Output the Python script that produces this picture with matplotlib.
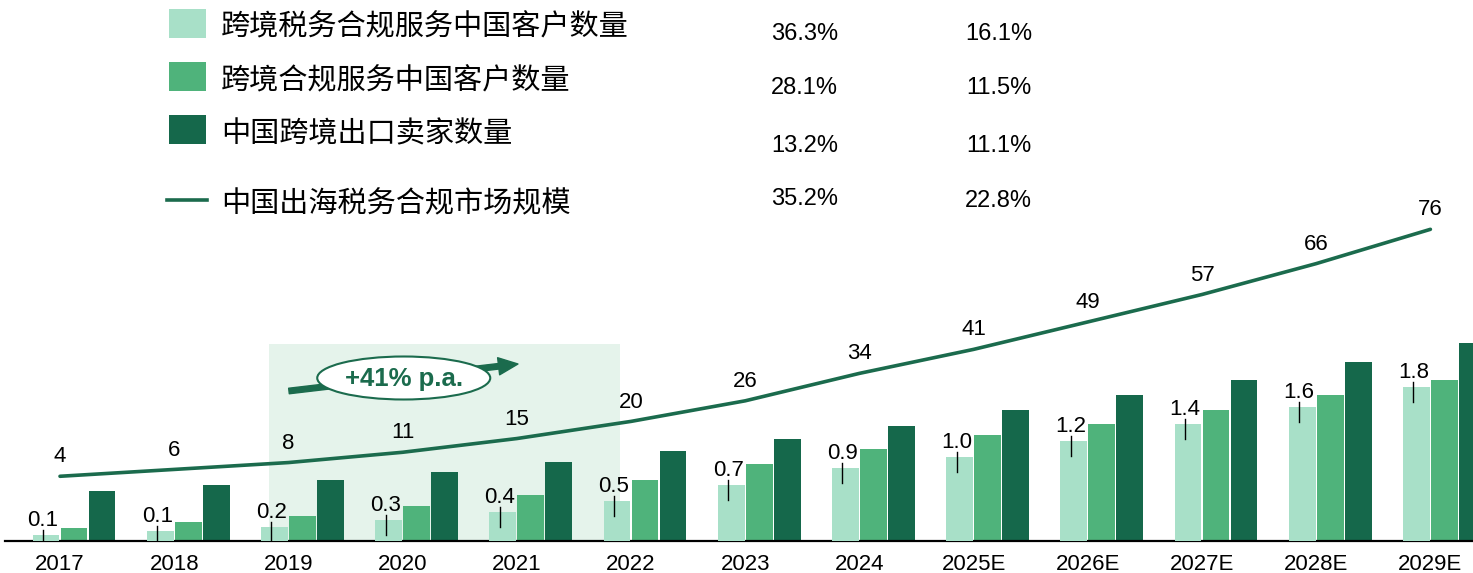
import numpy as np
import matplotlib.pyplot as plt
from matplotlib.patches import Rectangle, Ellipse
from matplotlib.lines import Line2D

plt.rcParams['font.family'] = ['Liberation Sans', 'Noto Sans CJK SC']

years = ['2017', '2018', '2019', '2020', '2021', '2022', '2023', '2024',
         '2025E', '2026E', '2027E', '2028E', '2029E']
tax_clients = [0.07, 0.12, 0.16, 0.25, 0.34, 0.47, 0.66, 0.86, 0.99, 1.18, 1.38, 1.58, 1.81]
tax_labels = ['0.1', '0.1', '0.2', '0.3', '0.4', '0.5', '0.7', '0.9', '1.0', '1.2', '1.4', '1.6', '1.8']
compliance_clients = [13.3, 19, 25, 34.7, 46.3, 61.3, 76.7, 92, 105.7, 117, 130.7, 145.7, 161.3]
sellers = [50, 55.7, 61.3, 69, 78.7, 90, 102, 115, 130.7, 145.7, 161.3, 178.7, 197.7]
market = [4, 6, 8, 11, 15, 20, 26, 34, 41, 49, 57, 66, 76]

legend_names = ['跨境税务合规服务中国客户数量', '跨境合规服务中国客户数量',
                '中国跨境出口卖家数量', '中国出海税务合规市场规模']
cagr_hist = ['36.3%', '28.1%', '13.2%', '35.2%']
cagr_fcst = ['16.1%', '11.5%', '11.1%', '22.8%']

c_light = '#A8E0C8'
c_mid = '#4FB37B'
c_dark = '#15684B'
c_line = '#1B6B4D'
c_box = '#E5F3EB'

W, H = 1473, 573
fig = plt.figure(figsize=(W / 100, H / 100), dpi=100)


def fx(px):
    return px / W


def fy(py):
    return 1 - py / H


ax = fig.add_axes([0, 32 / H, 1, 541 / H])
ax.set_xlim(-60 / 114.2, 1413 / 114.2)
ax.set_ylim(0, 541)
x = np.arange(len(years))

ax_l = ax.twinx()
ax_l.set_ylim(0, 541 / 85)
ax_m = ax.twinx()
ax_m.set_ylim(-51 / 3.43, 490 / 3.43)
ax_l.axis('off')
ax_m.axis('off')

w = 0.235
ax.add_patch(Rectangle((1.83, 0), 4.90 - 1.83, 197, color=c_box, zorder=0.5, lw=0))
ax.bar(x + 0.123, compliance_clients, w, color=c_mid, zorder=2)
ax.bar(x + 0.368, sellers, w, color=c_dark, zorder=2)
ax_l.bar(x - 0.123, tax_clients, w, color=c_light, zorder=2)

# leader ticks + labels on the light bars
px = 1 / 85
for i, v in enumerate(tax_clients):
    xt = i - 0.123 - 0.026
    top = v + 5 * px
    bot = max(v - 15 * px, 1.5 * px)
    ax_l.plot([xt, xt], [bot, top], color='black', lw=1.0, zorder=3)
    ax_l.text(xt, top + 4 * px, tax_labels[i], ha='center', va='baseline', fontsize=16)

# market size line
ax_m.plot(x, market, color=c_line, lw=2.6, solid_capstyle='round', zorder=4)
for i, v in enumerate(market):
    ax_m.annotate(str(v), (i, v), xytext=(0, 10), textcoords='offset points',
                  ha='center', va='baseline', fontsize=16)

# growth marker
ax.annotate('', xy=(4.01, 177), xytext=(2.005, 150),
            arrowprops=dict(arrowstyle='simple,head_length=0.7,head_width=0.62,tail_width=0.2',
                            mutation_scale=20, color=c_line, shrinkA=0, shrinkB=0), zorder=3)
ax.add_patch(Ellipse((3.01, 163), 1.515, 43, fc='white', ec=c_line, lw=1.5, zorder=5))
ax.text(3.01, 162, '+41% p.a.', ha='center', va='center', fontsize=18.5,
        fontweight='bold', color=c_line, zorder=6)

for s in ['top', 'left', 'right']:
    ax.spines[s].set_visible(False)
ax.spines['bottom'].set_linewidth(1.6)
ax.spines['bottom'].set_bounds(-0.48, 1413 / 114.2)
ax.set_yticks([])
ax.set_xticks(x)
ax.set_xticklabels(years, fontsize=16)
ax.tick_params(axis='x', length=0, pad=9)

# legend block
boxes = [(9, 38, c_light), (62, 91, c_mid), (115, 144, c_dark)]
for y0, y1, c in boxes:
    fig.add_artist(Rectangle((fx(169), fy(y1)), fx(37), (y1 - y0) / H,
                             transform=fig.transFigure, color=c, lw=0))
fig.add_artist(Line2D([fx(167), fx(207)], [fy(200), fy(200)], transform=fig.transFigure,
                      color=c_line, lw=2.6))

name_y = [27.5, 81, 134, 204]
pct_y = [34.5, 87.5, 145.5, 199]
for i in range(4):
    fig.text(fx(221), fy(name_y[i]), legend_names[i], ha='left', va='center',
             fontsize=21, family=['Noto Sans CJK SC'], fontweight='light')
    fig.text(fx(838), fy(pct_y[i]), cagr_hist[i], ha='right', va='center', fontsize=17)
    fig.text(fx(1032), fy(pct_y[i] + (2 if i == 3 else 0)), cagr_fcst[i],
             ha='right', va='center', fontsize=17)

fig.savefig('out.png', dpi=100)
